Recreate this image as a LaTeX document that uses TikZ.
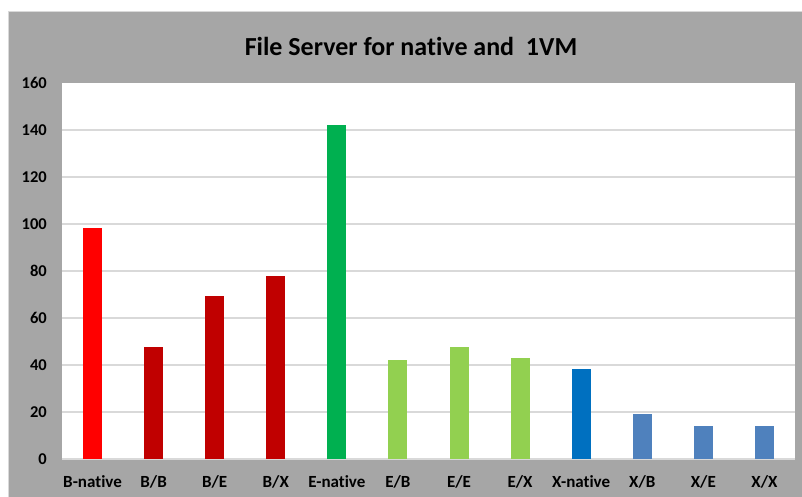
\documentclass[tikz,border=0pt]{standalone}
\usepackage{fontspec}
\setmainfont{Carlito}[Ligatures=NoCommon]
\usepackage{xcolor}
\usepackage{tikz}

\definecolor{chartgray}{HTML}{A6A6A6}
\definecolor{edgegray}{HTML}{D9D9D9}
\definecolor{gridgray}{HTML}{D9D9D9}
\definecolor{bnative}{HTML}{FF0000}
\definecolor{bvm}{HTML}{C00000}
\definecolor{enative}{HTML}{00B050}
\definecolor{evm}{HTML}{92D050}
\definecolor{xnative}{HTML}{0070C0}
\definecolor{xvm}{HTML}{4F81BD}

\begin{document}
\begin{tikzpicture}[x=1pt,y=1pt,
    charttitle/.style={font=\bfseries\fontsize{26}{26}\selectfont},
    ticklabel/.style={font=\bfseries\fontsize{16.5}{16.5}\selectfont, anchor=east, inner sep=0pt},
    catlabel/.style={font=\bfseries\fontsize{17}{17}\selectfont, inner sep=0pt},
    gridline/.style={draw=gridgray, line width=1.5pt}]
  \useasboundingbox (0,0) rectangle (802,497);
  \fill[white] (0,0) rectangle (802,497);
  \fill[chartgray] (8,0) rectangle (802,485);
  \draw[edgegray, line width=1pt] (8,0) -- (8,485) -- (802,485);
  \fill[white] (62,38) rectangle (795,414);

  \node[charttitle] (title) at (411,451) {File Server for native and \ 1VM};

  \begin{scope}[shift={(0,38)}, y=2.35pt]
    % Grid section
    \draw[gridline] (62,0) -- (795,0);
    \draw[gridline] (62,20) -- (795,20);
    \draw[gridline] (62,40) -- (795,40);
    \draw[gridline] (62,60) -- (795,60);
    \draw[gridline] (62,80) -- (795,80);
    \draw[gridline] (62,100) -- (795,100);
    \draw[gridline] (62,120) -- (795,120);
    \draw[gridline] (62,140) -- (795,140);

    % Axis labels section
    \node[ticklabel] (t0) at (47,0) {0};
    \node[ticklabel] (t20) at (47,20) {20};
    \node[ticklabel] (t40) at (47,40) {40};
    \node[ticklabel] (t60) at (47,60) {60};
    \node[ticklabel] (t80) at (47,80) {80};
    \node[ticklabel] (t100) at (47,100) {100};
    \node[ticklabel] (t120) at (47,120) {120};
    \node[ticklabel] (t140) at (47,140) {140};
    \node[ticklabel] (t160) at (47,160) {160};

    % Bars section
    \fill[bnative] (83.04,0) rectangle ++(19,98.3);
    \fill[bvm] (144.12,0) rectangle ++(19,47.6);
    \fill[bvm] (205.20,0) rectangle ++(19,69.2);
    \fill[bvm] (266.28,0) rectangle ++(19,78.0);
    \fill[enative] (327.36,0) rectangle ++(19,142.0);
    \fill[evm] (388.44,0) rectangle ++(19,42.0);
    \fill[evm] (449.52,0) rectangle ++(19,47.6);
    \fill[evm] (510.60,0) rectangle ++(19,42.8);
    \fill[xnative] (571.68,0) rectangle ++(19,38.2);
    \fill[xvm] (632.76,0) rectangle ++(19,19.0);
    \fill[xvm] (693.84,0) rectangle ++(19,14.0);
    \fill[xvm] (754.92,0) rectangle ++(19,14.0);
  \end{scope}

  % Category labels section
  \node[catlabel] (cBnative) at (92.54,15) {B-native};
  \node[catlabel] (cBB) at (153.62,15) {B/B};
  \node[catlabel] (cBE) at (214.70,15) {B/E};
  \node[catlabel] (cBX) at (275.78,15) {B/X};
  \node[catlabel] (cEnative) at (336.86,15) {E-native};
  \node[catlabel] (cEB) at (397.94,15) {E/B};
  \node[catlabel] (cEE) at (459.02,15) {E/E};
  \node[catlabel] (cEX) at (520.10,15) {E/X};
  \node[catlabel] (cXnative) at (581.18,15) {X-native};
  \node[catlabel] (cXB) at (642.26,15) {X/B};
  \node[catlabel] (cXE) at (703.34,15) {X/E};
  \node[catlabel] (cXX) at (764.42,15) {X/X};
\end{tikzpicture}
\end{document}
